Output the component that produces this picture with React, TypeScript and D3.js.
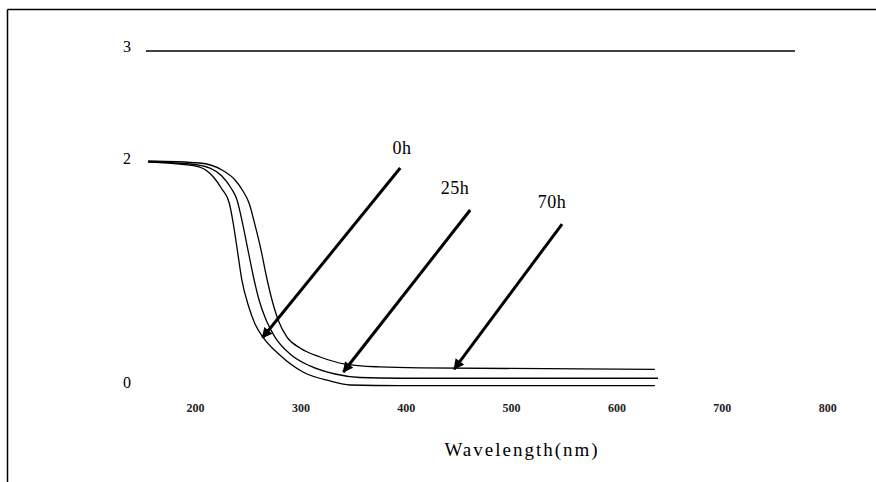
import React from "react";
import { scaleLinear, line, curveMonotoneX } from "d3";

// absorbance spectra, [wavelength nm, absorbance]
const curve0h: [number, number][] = [
  [155, 2.01], [185, 1.99], [204, 1.964], [217, 1.875], [225, 1.768], [232, 1.643],
  [235.6, 1.473], [239.4, 1.241], [244, 0.955], [250, 0.732], [256.5, 0.563],
  [264, 0.446], [280, 0.286], [302, 0.134], [327.6, 0.054], [346.6, 0.018],
  [394, 0.012], [636, 0.012],
];
const curve25h: [number, number][] = [
  [155, 2.009], [195, 1.991], [213.7, 1.955], [225, 1.884], [233.7, 1.777],
  [239.4, 1.67], [245, 1.446], [249.8, 1.223], [254.6, 1.0], [260.3, 0.777],
  [267, 0.598], [275.4, 0.446], [289.7, 0.295], [308.7, 0.188], [332.4, 0.116],
  [356, 0.085], [394, 0.078], [639, 0.078],
];
const curve70h: [number, number][] = [
  [155, 2.018], [204, 2.0], [225, 1.938], [237.5, 1.848], [245, 1.75],
  [250.8, 1.643], [256.5, 1.446], [262.2, 1.223], [267, 1.0], [272.6, 0.777],
  [279.2, 0.58], [286.8, 0.446], [299.2, 0.348], [318.2, 0.268], [342, 0.205],
  [375, 0.179], [413, 0.17], [636, 0.158],
];
const series = [curve0h, curve25h, curve70h];

const xTicks = [200, 300, 400, 500, 600, 700, 800];
const yTicks = [0, 2, 3];
const topLine = [153, 769];

// annotation arrows: label, tail, head (data units)
const arrows = [
  { label: "0h", text: [396, 2.13], from: [394.3, 1.955], to: [263.5, 0.44] },
  { label: "25h", text: [446.4, 1.78], from: [460.7, 1.58], to: [340.3, 0.134] },
  { label: "70h", text: [538.4, 1.65], from: [547.9, 1.455], to: [445.5, 0.16] },
];

const W = 876;
const H = 482;

export default function App() {
  const x = scaleLinear().domain([153, 769]).range([146, 795]);
  const y = scaleLinear().domain([0, 3]).range([387, 51]);

  const lineGen = line<[number, number]>()
    .x((d) => x(d[0]))
    .y((d) => y(d[1]))
    .curve(curveMonotoneX);

  const serif = "'Liberation Serif', 'DejaVu Serif', serif";

  return (
    <svg
      width={W}
      height={H}
      style={{ position: "absolute", left: 0, top: 0, background: "#fff" }}
      fontFamily={serif}
    >
      <defs>
        <marker id="head" viewBox="0 0 10 10" refX="9" refY="5"
          markerWidth="4" markerHeight="3.5" orient="auto" markerUnits="strokeWidth">
          <path d="M0,0 L10,5 L0,10 z" fill="#000" />
        </marker>
      </defs>

      {/* frame */}
      <line x1={7.5} y1={9.5} x2={W} y2={9.5} stroke="#000" strokeWidth={1.5} />
      <line x1={7.5} y1={9.5} x2={7.5} y2={H} stroke="#000" strokeWidth={1.5} />

      {/* y tick labels */}
      {yTicks.map((t) => (
        <text key={t} x={127} y={y(t) + 1} fontSize={16} textAnchor="middle" fill="#000">
          {t}
        </text>
      ))}

      {/* top line at 3 */}
      <line x1={x(topLine[0])} x2={x(topLine[1])} y1={y(3)} y2={y(3)} stroke="#000" strokeWidth={1.3} />

      {/* curves */}
      {series.map((s, i) => (
        <path key={i} d={lineGen(s) || ""} fill="none" stroke="#000" strokeWidth={1.3} />
      ))}

      {/* arrows */}
      {arrows.map((a) => (
        <g key={a.label}>
          <line
            x1={x(a.from[0])} y1={y(a.from[1])}
            x2={x(a.to[0])} y2={y(a.to[1])}
            stroke="#000" strokeWidth={3} markerEnd="url(#head)"
          />
          <text x={x(a.text[0])} y={y(a.text[1]) + 6} fontSize={18} letterSpacing={0.5}
            textAnchor="middle" fill="#000">
            {a.label}
          </text>
        </g>
      ))}

      {/* x tick labels */}
      {xTicks.map((t) => (
        <text key={t} x={x(t)} y={412} fontSize={12} fontWeight="bold" textAnchor="middle" fill="#222">
          {t}
        </text>
      ))}

      <text x={522} y={456} fontSize={19} letterSpacing={2} textAnchor="middle" fill="#000">
        Wavelength(nm)
      </text>
    </svg>
  );
}
